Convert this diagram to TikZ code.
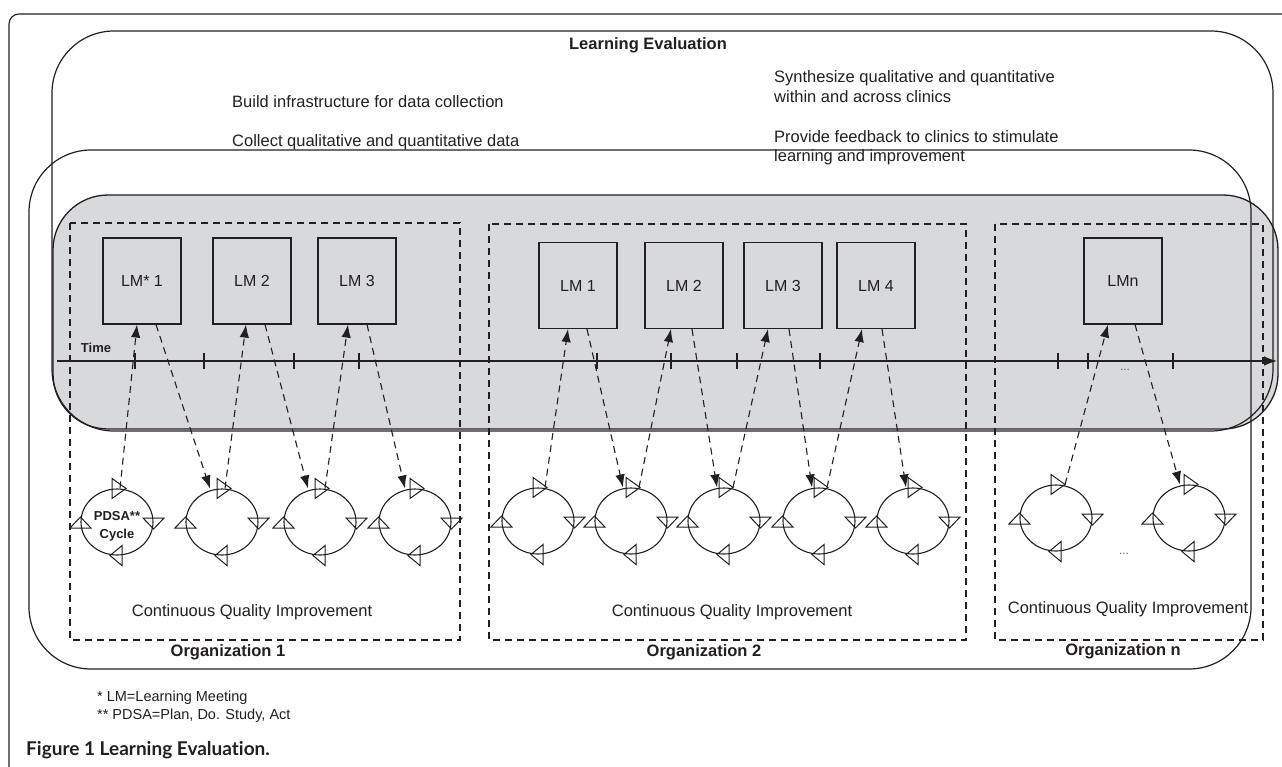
\documentclass[tikz,border=0pt]{standalone}
\usepackage{fontspec}
\setmainfont{Liberation Sans}
\newfontfamily\capfont[Ligatures=NoCommon]{Lato}
\usetikzlibrary{arrows.meta,shapes.geometric,calc}
\definecolor{bggray}{RGB}{216,217,219}
\definecolor{ink}{RGB}{35,31,32}
\begin{document}
\begin{tikzpicture}[x=1pt,y=-1pt,
  every node/.style={text=ink},
  bigbox/.style={draw=ink, line width=1.2pt, rounded corners=62pt},
  orgbox/.style={draw=ink, line width=1.1pt, dash pattern=on 7pt off 5pt},
  lmbox/.style={draw=ink, line width=1.1pt, minimum width=78pt, minimum height=86pt, inner sep=0pt, font=\fontsize{16}{19}\selectfont},
  cyc/.style={draw=ink, ellipse, line width=1.1pt, minimum width=72pt, minimum height=66pt, inner sep=0pt},
  tri/.style={draw=ink, line width=1pt, line join=miter},
  link/.style={draw=ink, line width=1.1pt, dash pattern=on 7pt off 5pt, -{Latex[length=13pt,width=9.5pt]}},
  tickmark/.style={draw=ink, line width=1.1pt},
  txt/.style={inner sep=0pt, font=\fontsize{16.5}{20}\selectfont},
  boldtxt/.style={inner sep=0pt, font=\fontsize{16.5}{20}\selectfont\bfseries},
  smallbold/.style={inner sep=0pt, font=\fontsize{13}{15}\selectfont\bfseries},
  foot/.style={inner sep=0pt, anchor=west, font=\fontsize{14.5}{17}\selectfont},
  dots/.style={inner sep=0pt, font=\fontsize{12}{14}\selectfont, text=ink!70}
]
\useasboundingbox (0,0) rectangle (1282,766);

% outer frame
\draw[ink, line width=1.1pt, rounded corners=10pt] (9,767) -- (9,14) -- (1283,14);

% gray band fill
\fill[bggray, rounded corners=55pt] (53,195) rectangle (1278,429);

% Learning Evaluation box and second box
\draw[bigbox] (52,31) rectangle (1273,431);
\draw[bigbox] (29,150) rectangle (1251,669);
\draw[ink, line width=1.3pt, rounded corners=55pt] (53,195) rectangle (1278,429);

% texts at top
\node[boldtxt] (le) at (648,45) {Learning Evaluation};
\node[txt, anchor=west] (t1) at (232,102) {Build infrastructure for data collection};
\node[txt, anchor=west] (t2) at (232,142) {Collect qualitative and quantitative data};
\node[txt, anchor=west] (t3) at (774,78) {Synthesize qualitative and quantitative};
\node[txt, anchor=west] (t4) at (774,97) {within and across clinics};
\node[txt, anchor=west] (t5) at (774,137) {Provide feedback to clinics to stimulate};
\node[txt, anchor=west] (t6) at (774,157) {learning and improvement};

% organization boxes
\draw[orgbox] (70,223) rectangle (460,640);
\draw[orgbox] (489,224) rectangle (966,640);
\draw[orgbox] (995,224) rectangle (1263,640);

% time axis
\coordinate (ax0) at (57,361);
\coordinate (ax1) at (1277,361);
\draw[ink, line width=1.1pt, -{Latex[length=13pt,width=9.5pt]}] (ax0) -- (ax1);
\node[smallbold] (time) at (96,348) {Time};
\foreach \x in {135,204,294,359,597,671,737,820,1058,1088,1173}
  \draw[tickmark] (\x,353) -- (\x,369);
\node[dots] (d1) at (1125,370) {...};

% learning meetings
\node[lmbox] (a1) at (142,281) {LM* 1};
\node[lmbox] (a2) at (252,281) {LM 2};
\node[lmbox] (a3) at (357,281) {LM 3};
\node[lmbox] (b1) at (578,285.5) {LM 1};
\node[lmbox] (b2) at (684,285.5) {LM 2};
\node[lmbox] (b3) at (783,285.5) {LM 3};
\node[lmbox] (b4) at (876,285.5) {LM 4};
\node[lmbox] (n1) at (1123,281) {LMn};

% PDSA cycles
\node[cyc] (ca1) at (117,522) {};
\node[cyc] (ca2) at (222,522) {};
\node[cyc] (ca3) at (320,522) {};
\node[cyc] (ca4) at (415,522) {};
\node[cyc] (cb1) at (538,521) {};
\node[cyc] (cb2) at (631,521) {};
\node[cyc] (cb3) at (724,521) {};
\node[cyc] (cb4) at (819,521) {};
\node[cyc] (cb5) at (913,521) {};
\node[cyc] (cn1) at (1056,518) {};
\node[cyc] (cn2) at (1189,518) {};

\foreach \c in {ca1,ca2,ca3,ca4,cb1,cb2,cb3,cb4,cb5,cn1,cn2} {
  \draw[tri] ([shift={(-5,-10)}]\c.north) -- ([shift={(9,0)}]\c.north) -- ([shift={(-5,10)}]\c.north) -- cycle;
  \draw[tri] ([shift={(-10.5,-4)}]\c.east) -- ([shift={(10.5,-4)}]\c.east) -- ([shift={(0,7)}]\c.east) -- cycle;
  \draw[tri] ([shift={(5,-10)}]\c.south) -- ([shift={(5,10)}]\c.south) -- ([shift={(-7,0)}]\c.south) -- cycle;
  \draw[tri] ([shift={(-10.5,6)}]\c.west) -- ([shift={(10.5,6)}]\c.west) -- ([shift={(0,-5)}]\c.west) -- cycle;
}
\node[smallbold] (pdsa) at (117,516) {PDSA**};
\node[smallbold] (cycle) at (117,535) {Cycle};
\node[dots] (d2) at (1124,554) {...};

% links organization 1
\draw[link] ([xshift=3pt]ca1.north) -- ([xshift=-5pt]a1.south);
\draw[link] ([xshift=14pt]a1.south) -- ([xshift=-12pt]ca2.north);
\draw[link] ([xshift=3pt]ca2.north) -- ([xshift=-6pt]a2.south);
\draw[link] ([xshift=13pt]a2.south) -- ([xshift=-12pt]ca3.north);
\draw[link] ([xshift=5pt]ca3.north) -- ([xshift=-9pt]a3.south);
\draw[link] ([xshift=10pt]a3.south) -- ([xshift=-10pt]ca4.north);
% links organization 2
\draw[link] ([xshift=7pt]cb1.north) -- ([xshift=-10pt]b1.south);
\draw[link] ([xshift=9pt]b1.south) -- ([xshift=-8pt]cb2.north);
\draw[link] ([xshift=8pt]cb2.north) -- ([xshift=-13pt]b2.south);
\draw[link] ([xshift=8pt]b2.south) -- ([xshift=-7pt]cb3.north);
\draw[link] ([xshift=9pt]cb3.north) -- ([xshift=-15pt]b3.south);
\draw[link] ([xshift=6pt]b3.south) -- ([xshift=-7pt]cb4.north);
\draw[link] ([xshift=8pt]cb4.north) -- ([xshift=-14pt]b4.south);
\draw[link] ([xshift=6pt]b4.south) -- ([xshift=-7pt]cb5.north);
% links organization n
\draw[link] ([xshift=9pt]cn1.north) -- ([xshift=-15pt]n1.south);
\draw[link] ([xshift=12pt]n1.south) -- ([xshift=-9pt]cn2.north);

% bottom labels
\node[txt] (q1) at (252,612) {Continuous Quality Improvement};
\node[txt] (q2) at (732,612) {Continuous Quality Improvement};
\node[txt] (q3) at (1128,609) {Continuous Quality Improvement};
\node[boldtxt] (o1) at (228,652) {Organization 1};
\node[boldtxt] (o2) at (704,652) {Organization 2};
\node[boldtxt] (o3) at (1123,651) {Organization n};

% footnotes and caption
\node[foot] (f1) at (97,698) {* LM=Learning Meeting};
\node[foot] (f2) at (97,716) {** PDSA=Plan, Do. Study, Act};
\node[inner sep=0pt, anchor=west, font=\capfont\bfseries\fontsize{19}{22}\selectfont] (cap) at (26,750) {Figure 1 Learning Evaluat\kern0pt ion.};
\end{tikzpicture}
\end{document}
